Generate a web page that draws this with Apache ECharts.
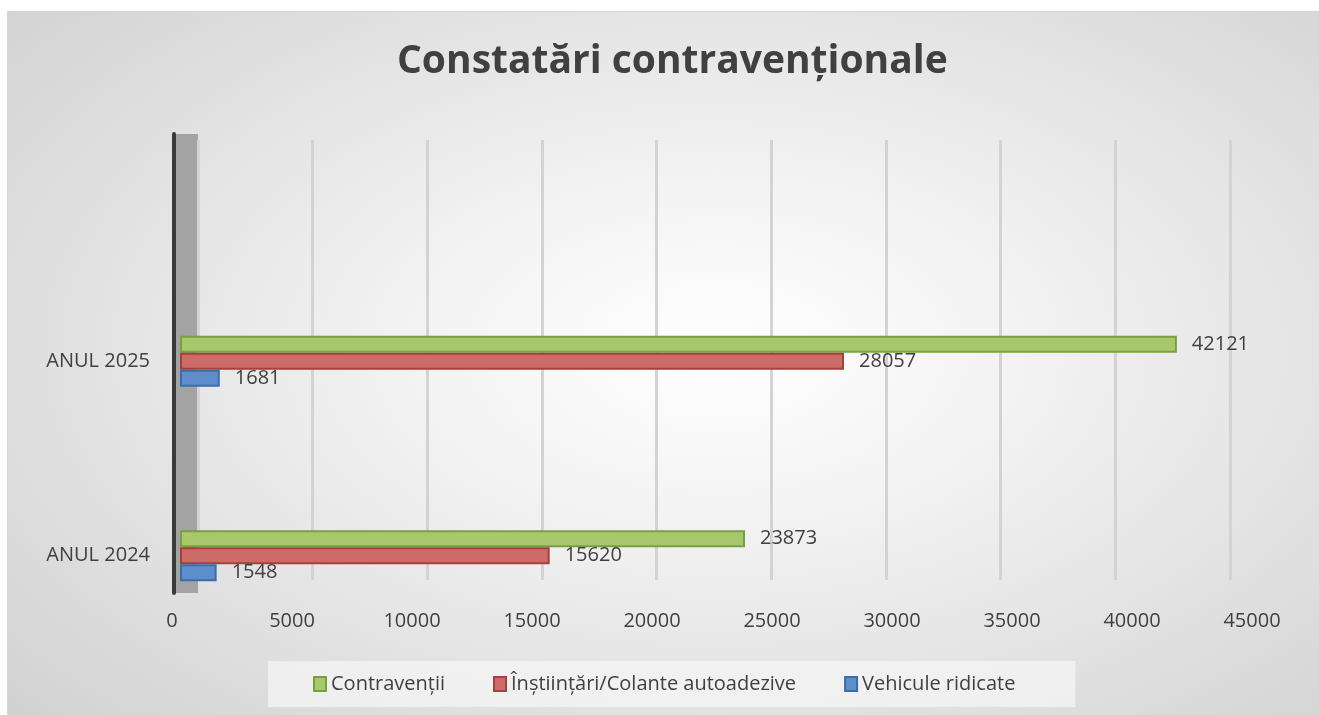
<!DOCTYPE html>
<html>
<head>
<meta charset="utf-8">
<style>
  html, body { margin: 0; padding: 0; background: #ffffff; }
  #bg {
    position: absolute; left: 7px; top: 11px; width: 1312px; height: 704px;
    border-top: 1px solid #d6d6d6; border-left: 1px solid #d6d6d6;
    background: radial-gradient(ellipse 75% 80% at 54% 48%, #ffffff 0%, #f3f3f3 30%, #d0d0d0 100%);
  }
  #chart { position: absolute; left: 0; top: 0; width: 1319px; height: 715px; }
</style>
<script src="https://cdn.jsdelivr.net/npm/echarts@6/dist/echarts.min.js"></script>
</head>
<body>
<div id="bg"></div>
<div id="chart"></div>
<script>
// 数据
var categories = ['ANUL 2024', 'ANUL 2025'];
var contraventii = [23873, 42121];
var instiintari = [15620, 28057];
var vehicule = [1548, 1681];
var seriesNames = ['Contravenții', 'Înștiințări/Colante autoadezive', 'Vehicule ridicate'];

var myChart = echarts.init(document.getElementById('chart'));

var textColor = '#404040';
var fontFam = '"Open Sans", sans-serif';

function barSeries(name, values, fill, border) {
  return {
    name: name,
    type: 'bar',
    xAxisIndex: 0,
    yAxisIndex: 0,
    data: values,
    barWidth: 17,
    barGap: '0%',
    itemStyle: { color: fill, borderColor: border, borderWidth: 2 },
    label: {
      show: true,
      position: 'right',
      distance: 15,
      color: textColor,
      fontFamily: fontFam,
      fontSize: 20
    },
    z: 5
  };
}

var option = {
  backgroundColor: 'transparent',
  animation: false,
  title: {
    text: 'Constatări contravenționale',
    left: 392,
    top: 37,
    textStyle: { color: textColor, fontFamily: fontFam, fontWeight: 'bold', fontSize: 39 }
  },
  legend: {
    data: seriesNames,
    left: 268,
    top: 661,
    padding: [13, 60, 13, 45],
    backgroundColor: 'rgba(246,246,246,0.7)',
    itemGap: 48,
    itemWidth: 12,
    itemHeight: 14,
    icon: 'rect',
    textStyle: { color: textColor, fontFamily: fontFam, fontSize: 20 }
  },
  grid: [
    // 柱状图主区
    { left: 180, width: 1065, top: 264, height: 389 },
    // 后墙网格线
    { left: 198, width: 1032, top: 140, height: 440 },
    // 刻度标签
    { left: 172, width: 1080, top: 130, height: 470 },
    // 左侧墙
    { left: 174, width: 24, top: 134, height: 459, show: true, backgroundColor: '#a3a3a3', borderWidth: 0 }
  ],
  xAxis: [
    { gridIndex: 0, type: 'value', min: 0, max: 45000, interval: 5000, show: false },
    {
      gridIndex: 1, type: 'value', min: 0, max: 45000, interval: 5000,
      axisLine: { show: false }, axisTick: { show: false }, axisLabel: { show: false },
      splitLine: { show: true, lineStyle: { color: '#d3d3d3', width: 3 } }
    },
    {
      gridIndex: 2, type: 'value', min: 0, max: 45000, interval: 5000,
      axisLine: { show: false }, axisTick: { show: false }, splitLine: { show: false },
      axisLabel: {
        color: textColor, fontFamily: fontFam, fontSize: 20, margin: 11,
        formatter: function (v) { return String(v); }
      }
    },
    { gridIndex: 3, type: 'value', show: false }
  ],
  yAxis: [
    {
      gridIndex: 0, type: 'category', data: categories,
      axisLine: { show: false }, axisTick: { show: false },
      axisLabel: { color: textColor, fontFamily: fontFam, fontSize: 20, margin: 30 }
    },
    { gridIndex: 1, type: 'value', show: false },
    { gridIndex: 2, type: 'value', show: false },
    {
      gridIndex: 3, type: 'value',
      axisLine: { show: true, onZero: false, lineStyle: { color: '#3a3a3a', width: 4 } },
      axisTick: { show: false }, axisLabel: { show: false }, splitLine: { show: false }
    }
  ],
  series: [
    barSeries(seriesNames[0], contraventii, '#a8c86e', '#78a03e'),
    barSeries(seriesNames[1], instiintari, '#cd6b69', '#a5403d'),
    barSeries(seriesNames[2], vehicule, '#5d8dca', '#3d6da8')
  ]
};

myChart.setOption(option);
</script>
</body>
</html>
